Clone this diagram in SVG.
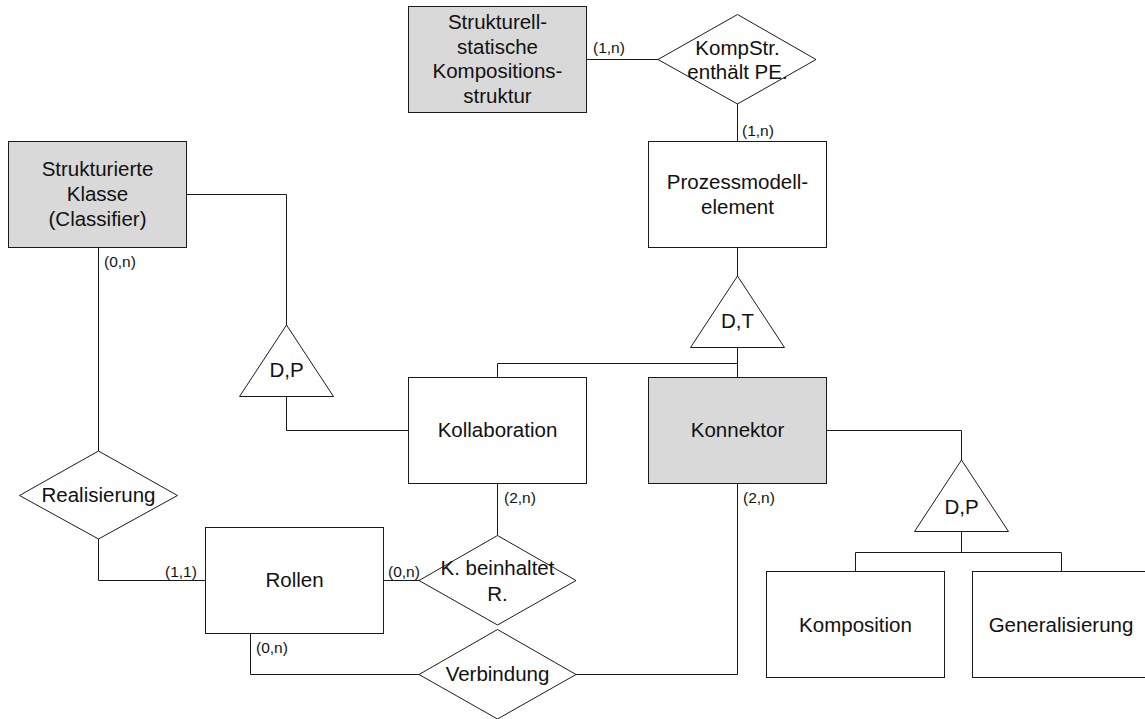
<svg xmlns="http://www.w3.org/2000/svg" width="1145" height="719" viewBox="0 0 1145 719">
<style>
.box{fill:#ffffff;stroke:#1a1a1a;stroke-width:1}
.gray{fill:#d9d9d9}
.shape{fill:#ffffff;stroke:#1a1a1a;stroke-width:1}
.t{font-family:"Liberation Sans",Arial,sans-serif;font-size:20.5px;fill:#111;text-anchor:middle}
.lbl{font-family:"Liberation Sans",Arial,sans-serif;font-size:15.5px;fill:#111}
#connectors path{fill:none;stroke:#1a1a1a;stroke-width:1}
</style>
<rect x="0" y="0" width="1145" height="719" fill="#ffffff"/>
<g id="connectors">
<path d="M586,59.5H658"/>
<path d="M737.5,104V141"/>
<path d="M737.5,247V276"/>
<path d="M737.5,347V378"/>
<path d="M497.5,378V363.5H737.5"/>
<path d="M186,194.5H286.5V325"/>
<path d="M286.5,396V430.5H408"/>
<path d="M98.5,247V451"/>
<path d="M98.5,539V580.5H205"/>
<path d="M383,580.5H419"/>
<path d="M497.5,484V535"/>
<path d="M250.5,633V674.5H419"/>
<path d="M575,674.5H737.5V484"/>
<path d="M826,430.5H961.5V460"/>
<path d="M961.5,531V552.5"/>
<path d="M855.5,571V552.5H1061.5V571"/>
</g>
<g id="labels">
<text class="lbl" x="593" y="53">(1,n)</text>
<text class="lbl" x="742" y="136">(1,n)</text>
<text class="lbl" x="104" y="267">(0,n)</text>
<text class="lbl" x="165" y="577">(1,1)</text>
<text class="lbl" x="388" y="577">(0,n)</text>
<text class="lbl" x="504" y="503">(2,n)</text>
<text class="lbl" x="256" y="653">(0,n)</text>
<text class="lbl" x="743" y="503">(2,n)</text>
</g>
<g id="n_strukturell">
<rect class="box gray" x="408.5" y="6.5" width="178" height="106"/>
<text class="t" x="497.5" y="29">Strukturell-</text>
<text class="t" x="497.5" y="54">statische</text>
<text class="t" x="497.5" y="78">Kompositions-</text>
<text class="t" x="497.5" y="103">struktur</text>
</g>
<g id="n_kompstr">
<polygon class="shape" points="658,59.5 737.5,14.5 816,59.5 737.5,104"/>
<text class="t" x="737.5" y="55">KompStr.</text>
<text class="t" x="737.5" y="79">enthält PE.</text>
</g>
<g id="n_prozess">
<rect class="box" x="648.5" y="141.5" width="178" height="106"/>
<text class="t" x="737.5" y="189">Prozessmodell-</text>
<text class="t" x="737.5" y="214">element</text>
</g>
<g id="n_strukturierte">
<rect class="box gray" x="8.5" y="141.5" width="178" height="106"/>
<text class="t" x="97.5" y="176">Strukturierte</text>
<text class="t" x="97.5" y="201">Klasse</text>
<text class="t" x="97.5" y="226">(Classifier)</text>
</g>
<g id="n_dt">
<polygon class="shape" points="737.5,276 784.5,347.5 690.5,347.5"/>
<text class="t" x="737.5" y="328">D,T</text>
</g>
<g id="n_dp1">
<polygon class="shape" points="286.5,325 333.5,396.5 239.5,396.5"/>
<text class="t" x="286.5" y="377">D,P</text>
</g>
<g id="n_kollab">
<rect class="box" x="408.5" y="377.5" width="178" height="106"/>
<text class="t" x="497.5" y="437">Kollaboration</text>
</g>
<g id="n_konnektor">
<rect class="box gray" x="648.5" y="377.5" width="178" height="106"/>
<text class="t" x="737.5" y="437">Konnektor</text>
</g>
<g id="n_dp2">
<polygon class="shape" points="961.5,460 1008.5,531.5 914.5,531.5"/>
<text class="t" x="961.5" y="514">D,P</text>
</g>
<g id="n_realisierung">
<polygon class="shape" points="19.5,495.5 98.5,451 177.5,495.5 98.5,539"/>
<text class="t" x="98.5" y="502">Realisierung</text>
</g>
<g id="n_rollen">
<rect class="box" x="205.5" y="527.5" width="178" height="106"/>
<text class="t" x="294.5" y="587">Rollen</text>
</g>
<g id="n_kbeinhaltet">
<polygon class="shape" points="419,580.5 497.5,535.5 576,580.5 497.5,625"/>
<text class="t" x="497.5" y="575">K. beinhaltet</text>
<text class="t" x="497.5" y="601">R.</text>
</g>
<g id="n_verbindung">
<polygon class="shape" points="419,674.5 497.5,629.5 576,674.5 497.5,719"/>
<text class="t" x="497.5" y="681">Verbindung</text>
</g>
<g id="n_komposition">
<rect class="box" x="766.5" y="571.5" width="178" height="106"/>
<text class="t" x="855.5" y="632">Komposition</text>
</g>
<g id="n_generalisierung">
<rect class="box" x="972.5" y="571.5" width="178" height="106"/>
<text class="t" x="1061" y="632">Generalisierung</text>
</g>
</svg>
